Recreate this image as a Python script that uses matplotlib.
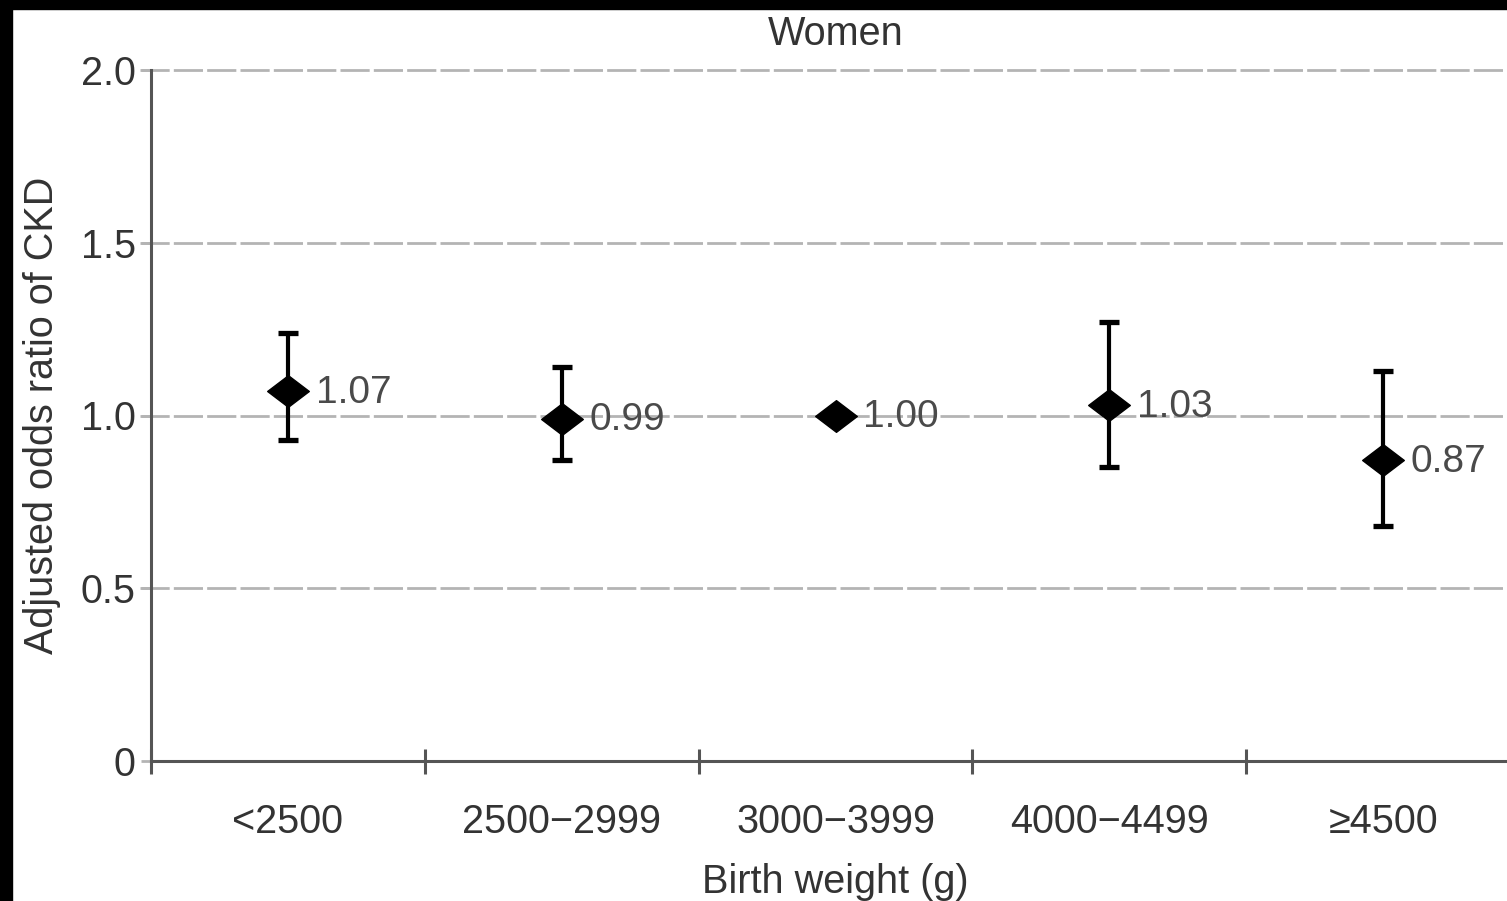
import numpy as np
import matplotlib.pyplot as plt
from matplotlib.patches import Rectangle
from matplotlib.path import Path

plt.rcParams['font.family'] = ['Liberation Sans', 'DejaVu Sans']
plt.rcParams['lines.scale_dashes'] = False

# data
categories = ['<2500', '2500\u22122999', '3000\u22123999', '4000\u22124499', '\u22654500']
odds_ratio = [1.07, 0.99, 1.00, 1.03, 0.87]
ci_low = [0.93, 0.87, np.nan, 0.85, 0.68]
ci_high = [1.24, 1.14, np.nan, 1.27, 1.13]
value_labels = ['1.07', '0.99', '1.00', '1.03', '0.87']
y_ticks = [0, 0.5, 1.0, 1.5, 2.0]
y_ticklabels = ['0', '0.5', '1.0', '1.5', '2.0']

W, H = 1507, 901
fig = plt.figure(figsize=(W / 100, H / 100), dpi=100)
ax = fig.add_axes([151 / W, (H - 761) / H, (1520 - 151) / W, (761 - 70) / H])

x = np.arange(len(categories))

# dashed reference lines
for yv in y_ticks[1:]:
    ax.axhline(yv, color='#b4b4b4', lw=2.0, dashes=(21, 3), zorder=1,
               xmin=-0.008, clip_on=False)

# flattened diamond marker
diamond = Path([(-1, 0), (0, 0.76), (1, 0), (0, -0.76), (-1, 0)],
               [Path.MOVETO, Path.LINETO, Path.LINETO, Path.LINETO, Path.CLOSEPOLY])

for i in range(len(x)):
    if not np.isnan(ci_low[i]):
        ax.errorbar(x[i], odds_ratio[i],
                    yerr=[[odds_ratio[i] - ci_low[i]], [ci_high[i] - odds_ratio[i]]],
                    fmt='none', ecolor='black', elinewidth=3.0, capsize=7, capthick=3.8,
                    zorder=3)
ax.plot(x, odds_ratio, linestyle='none', marker=diamond, markersize=30,
        color='black', zorder=4)

for i in range(len(x)):
    ax.annotate(value_labels[i], (x[i], odds_ratio[i]), xytext=(20, -1),
                textcoords='offset points', va='center', ha='left',
                fontsize=28, color='#4a4a4a', zorder=5)

ax.set_xlim(-0.5, 4.5)
ax.set_ylim(0, 2.0)
ax.set_xticks(x)
ax.set_xticklabels(categories)
ax.set_xticks(np.arange(-0.5, 4.0, 1.0), minor=True)
ax.set_yticks(y_ticks)
ax.set_yticklabels(y_ticklabels)

ax.tick_params(axis='x', which='major', length=0, pad=30, labelsize=28.5, labelcolor='#333333')
ax.tick_params(axis='x', which='minor', direction='inout', length=18, width=2.2, color='#555555')
ax.tick_params(axis='y', direction='out', length=7, width=2.0, color='#b4b4b4',
               pad=4, labelsize=28.5, labelcolor='#333333')

for side in ['top', 'right']:
    ax.spines[side].set_visible(False)
for side in ['left', 'bottom']:
    ax.spines[side].set_color('#555555')
    ax.spines[side].set_linewidth(2.2)

ax.set_title('Women', fontsize=28.5, color='#333333', pad=18)
ax.set_ylabel('Adjusted odds ratio of CKD', fontsize=28.5, color='#333333', labelpad=14)
ax.set_xlabel('Birth weight (g)', fontsize=28.5, color='#333333', labelpad=16)

# black frame strips on top and left of the scan
fig.patches.append(Rectangle((0, 0), 12 / W, 1, transform=fig.transFigure,
                             color='black', zorder=10))
fig.patches.append(Rectangle((0, 1 - 9 / H), 1, 9 / H, transform=fig.transFigure,
                             color='black', zorder=10))

fig.savefig('out.png', dpi=100)
